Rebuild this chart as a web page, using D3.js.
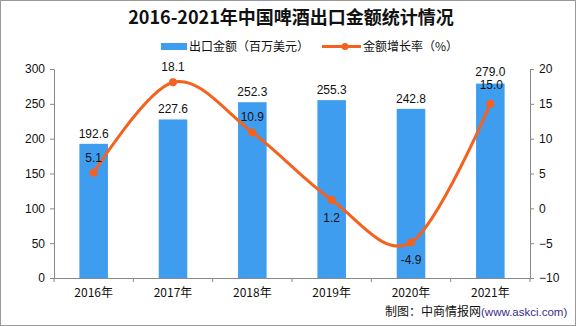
<!DOCTYPE html>
<html><head><meta charset="utf-8">
<script src="https://cdn.jsdelivr.net/npm/d3@7"></script>
<style>body{margin:0;background:#fff}svg{display:block}</style>
</head><body><svg id="c" width="576" height="326" font-family="'Noto Sans CJK SC','DejaVu Sans',sans-serif"></svg>
<script>
const categories = ["2016年","2017年","2018年","2019年","2020年","2021年"];
const exportValues = [192.6,227.6,252.3,255.3,242.8,279.0];
const growthRates = [5.1,18.1,10.9,1.2,-4.9,15.0];
const growthLabelBelow = [false,false,false,true,true,false];
const leftTicks = [0,50,100,150,200,250,300];
const rightTicks = [-10,-5,0,5,10,15,20];

const NUMFONT = "'Liberation Sans',Arial,sans-serif";
const CJKFONT = "'Noto Sans CJK SC','DejaVu Sans',sans-serif";
const svg = d3.select("#c");
svg.append("rect").attr("x",0.5).attr("y",0.5).attr("width",575).attr("height",325).attr("fill","#fff").attr("stroke","#999");

const L=54,R=530,T=69,B=278;
const x = d3.scaleBand().domain(categories).range([L,R]).paddingInner(0.64).paddingOuter(0.32);
const yL = d3.scaleLinear().domain([0,300]).range([B,T]);
const yR = d3.scaleLinear().domain([-10,20]).range([B,T]);

svg.append("text").attr("x",291).attr("y",24).attr("text-anchor","middle").style("font-family",CJKFONT).attr("font-size",18).attr("font-weight","bold").attr("fill","#111").text("2016-2021年中国啤酒出口金额统计情况");

// legend
svg.append("rect").attr("x",161).attr("y",43).attr("width",26).attr("height",7).attr("fill","#3F9DF0");
svg.append("text").attr("x",189).attr("y",51).style("font-family",CJKFONT).attr("font-size",12).attr("fill","#111").text("出口金额（百万美元）");
svg.append("line").attr("x1",322).attr("x2",361).attr("y1",46.5).attr("y2",46.5).attr("stroke","#F4621F").attr("stroke-width",3);
svg.append("circle").attr("cx",345).attr("cy",46.5).attr("r",3.5).attr("fill","#F4621F");
svg.append("text").attr("x",363).attr("y",51).style("font-family",CJKFONT).attr("font-size",12).attr("fill","#111").text("金额增长率（%）");

// bars
svg.selectAll(".bar").data(exportValues).join("rect")
 .attr("x",(d,i)=>x(categories[i])).attr("width",x.bandwidth())
 .attr("y",d=>yL(d)).attr("height",d=>B-yL(d)).attr("fill","#3F9DF0");
svg.selectAll(".bl").data(exportValues).join("text")
 .attr("x",(d,i)=>x(categories[i])+x.bandwidth()/2).attr("y",(d,i)=>yL(d)-(i===5?7.5:6))
 .attr("text-anchor","middle").attr("font-size",12).style("font-family",NUMFONT).attr("fill","#111").text(d=>d.toFixed(1));

// axes
const gl = svg.append("g").attr("transform",`translate(${L},0)`).call(d3.axisLeft(yL).tickValues(leftTicks).tickSize(4).tickPadding(5).tickSizeOuter(0));
const gr = svg.append("g").attr("transform",`translate(${R},0)`).call(d3.axisRight(yR).tickValues(rightTicks).tickSize(4).tickPadding(5).tickSizeOuter(0).tickFormat(d=>d<0?"−"+Math.abs(d):d));
const gb = svg.append("g").attr("transform",`translate(0,${B})`).call(d3.axisBottom(x).tickSize(0).tickSizeOuter(0));
gb.select(".domain").attr("d",`M${L-4},0.5H${R+4}`);
const bounds = categories.map(c=>x(c)-x.step()*x.paddingInner()/2).concat([R]);
bounds[0]=L;
gb.selectAll(".bt").data(bounds).join("line").attr("class","bt").attr("x1",d=>d).attr("x2",d=>d).attr("y1",0).attr("y2",4);
[gl,gr,gb].forEach(g=>{g.attr("font-family",null).attr("font-size",null);g.select(".domain").attr("stroke","#888");g.selectAll("line").attr("stroke","#888");g.selectAll("text").attr("font-size",12).attr("fill","#111");});
[gl,gr].forEach(g=>g.selectAll("text").style("font-family",NUMFONT));
gb.selectAll("text").style("font-family",CJKFONT).attr("y",19).attr("dy",0);

// line
const pts = growthRates.map((d,i)=>[x(categories[i])+x.bandwidth()/2,yR(d)]);
svg.append("path").attr("d",d3.line().curve(d3.curveCardinal.tension(0))(pts)).attr("fill","none").attr("stroke","#F4621F").attr("stroke-width",3);
svg.selectAll(".pt").data(pts).join("circle").attr("cx",d=>d[0]).attr("cy",d=>d[1]).attr("r",4).attr("fill","#F4621F");
svg.selectAll(".pl").data(growthRates).join("text")
 .attr("x",(d,i)=>pts[i][0]+(i===5?1:0)).attr("y",(d,i)=>growthLabelBelow[i]?pts[i][1]+22:pts[i][1]-(i===5?14.5:11))
 .attr("text-anchor","middle").attr("font-size",12).style("font-family",NUMFONT).attr("fill","#111").text(d=>d.toFixed(1));

// footer
const f = svg.append("text").attr("x",385).attr("y",316).attr("font-size",12).style("font-family",CJKFONT);
f.append("tspan").attr("fill","#111").text("制图：中商情报网");
f.append("tspan").attr("fill","#3a2d8c").attr("font-size",11.5).style("font-family",NUMFONT).text("(www.askci.com)");
</script></body></html>
